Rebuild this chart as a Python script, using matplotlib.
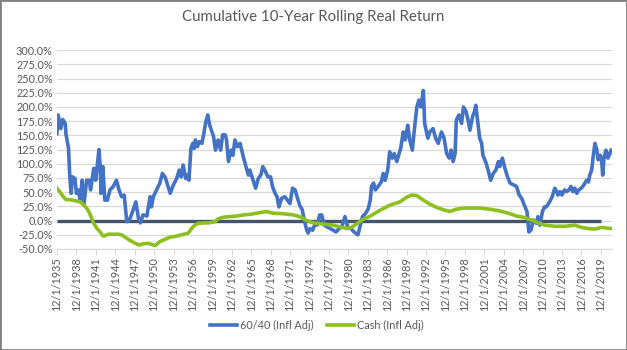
import matplotlib.pyplot as plt
from matplotlib.patches import Rectangle
from matplotlib.ticker import FuncFormatter

plt.rcParams['font.family'] = ['Lato', 'DejaVu Sans']

# 60/40 portfolio, cumulative 10y real return (%)
years_6040 = [1935.9, 1936.1, 1936.5, 1936.8, 1937.2, 1937.3, 1937.7, 1937.9, 1938.1, 1938.3,
              1938.7, 1938.9, 1939.2, 1939.5, 1939.8, 1940.1, 1940.5, 1940.9, 1941.1, 1941.6,
              1941.9, 1942.4, 1942.6, 1942.7, 1943.0, 1943.3, 1943.7, 1944.1, 1944.6, 1945.1,
              1945.5, 1945.9, 1946.3, 1946.7, 1947.1, 1947.5, 1948.1, 1948.5, 1948.8, 1949.2,
              1949.8, 1950.3, 1950.5, 1950.8, 1951.3, 1951.8, 1952.2, 1952.6, 1953.0, 1953.4,
              1953.9, 1954.4, 1954.8, 1955.1, 1955.4, 1955.8, 1956.1, 1956.3, 1956.6, 1956.9,
              1957.1, 1957.3, 1957.6, 1957.9, 1958.3, 1958.6, 1958.9, 1959.2, 1959.5, 1960.1,
              1960.4, 1960.8, 1961.2, 1961.5, 1961.9, 1962.1, 1962.4, 1962.8, 1963.1, 1963.4,
              1963.8, 1964.2, 1964.7, 1965.1, 1965.5, 1965.7, 1966.2, 1966.6, 1967.0, 1967.4,
              1967.7, 1968.0, 1968.5, 1968.9, 1969.2, 1969.6, 1969.9, 1970.2, 1970.6, 1971.1,
              1971.5, 1971.9, 1972.3, 1972.7, 1973.0, 1973.4, 1973.8, 1974.1, 1974.5, 1974.7,
              1975.0, 1975.4, 1975.8, 1976.1, 1976.5, 1976.8, 1977.2, 1977.6, 1978.1, 1978.6,
              1979.0, 1979.5, 1979.9, 1980.4, 1980.8, 1981.3, 1981.8, 1982.4, 1982.7, 1983.1,
              1983.6, 1984.0, 1984.3, 1984.5, 1984.8, 1985.1, 1985.5, 1986.0, 1986.3, 1986.6,
              1987.0, 1987.3, 1987.7, 1988.0, 1988.4, 1988.6, 1989.0, 1989.4, 1989.7, 1990.1,
              1990.4, 1990.8, 1991.1, 1991.5, 1991.8, 1992.1, 1992.5, 1992.7, 1993.2, 1993.5,
              1994.0, 1994.4, 1994.8, 1995.3, 1995.7, 1996.1, 1996.5, 1996.8, 1997.1, 1997.4,
              1997.6, 1998.0, 1998.4, 1998.7, 1999.1, 1999.4, 1999.7, 2000.1, 2000.4, 2000.6,
              2000.9, 2001.2, 2001.5, 2001.7, 2002.2, 2002.5, 2002.9, 2003.3, 2003.7, 2004.1,
              2004.3, 2004.7, 2005.1, 2005.5, 2005.9, 2006.4, 2006.9, 2007.3, 2007.7, 2008.0,
              2008.5, 2008.8, 2009.1, 2009.5, 2010.0, 2010.2, 2010.5, 2010.9, 2011.2, 2011.5,
              2012.0, 2012.4, 2012.8, 2013.1, 2013.3, 2013.6, 2013.9, 2014.3, 2014.6, 2015.0,
              2015.3, 2015.6, 2015.9, 2016.2, 2016.5, 2016.9, 2017.3, 2017.7, 2018.0, 2018.2,
              2018.5, 2018.7, 2019.0, 2019.3, 2019.5, 2019.8, 2020.0, 2020.2, 2020.4, 2020.7,
              2021.0, 2021.2, 2021.5]
ret_6040 = [153, 186, 162, 178, 171, 153, 127, 77, 48, 77,
            74, 48, 54, 36, 71, 30, 71, 71, 54, 92,
            71, 125, 95, 48, 95, 36, 36, 54, 60, 71,
            54, 42, 45, -2, 1, 13, 33, 4, -4, 10,
            8, 42, 24, 42, 54, 66, 83, 77, 63, 48,
            63, 74, 89, 77, 98, 74, 80, 71, 127, 136,
            127, 142, 130, 139, 136, 153, 174, 186, 168, 148,
            124, 142, 124, 151, 151, 142, 104, 124, 115, 142,
            130, 136, 112, 95, 80, 89, 71, 57, 74, 80,
            95, 89, 77, 77, 60, 48, 42, 24, 39, 42,
            36, 30, 57, 54, 42, 27, 19, 1, -17, -22,
            -14, -17, -5, -8, 10, 10, -8, -11, -14, -17,
            -20, -14, -11, 7, -11, -14, -20, -25, -11, 7,
            13, 21, 36, 60, 66, 54, 60, 68, 83, 71,
            89, 121, 110, 118, 104, 112, 127, 156, 142, 168,
            142, 124, 159, 200, 212, 200, 229, 171, 145, 156,
            162, 145, 136, 156, 145, 118, 110, 124, 104, 118,
            177, 186, 171, 200, 192, 177, 159, 183, 192, 203,
            174, 145, 136, 115, 101, 89, 71, 83, 89, 104,
            95, 110, 92, 77, 66, 63, 60, 45, 39, 30,
            16, -20, -17, 1, -5, 7, -8, 16, 24, 24,
            33, 42, 57, 51, 45, 51, 45, 54, 51, 54,
            60, 51, 57, 48, 54, 57, 63, 71, 68, 80,
            89, 110, 136, 124, 107, 115, 110, 80, 110, 124,
            110, 115, 124]

# cash, cumulative 10y real return (%)
years_cash = [1935.9, 1936.4, 1936.9, 1937.3, 1937.9, 1938.7, 1939.5, 1940.0, 1940.5, 1941.0,
              1941.5, 1942.1, 1942.6, 1943.0, 1943.3, 1943.8, 1944.6, 1945.4, 1945.9, 1946.4,
              1947.2, 1948.0, 1948.6, 1949.2, 1950.0, 1951.1, 1951.8, 1952.6, 1953.4, 1954.1,
              1955.2, 1956.2, 1956.7, 1957.2, 1957.7, 1958.5, 1959.3, 1960.3, 1960.8, 1961.6,
              1962.6, 1963.7, 1964.7, 1965.7, 1967.3, 1968.3, 1969.3, 1970.9, 1972.4, 1973.4,
              1974.5, 1975.5, 1977.0, 1978.6, 1979.6, 1980.7, 1981.4, 1982.4, 1983.2, 1984.3,
              1985.8, 1987.3, 1988.9, 1989.9, 1990.7, 1991.5, 1992.5, 1993.5, 1994.6, 1995.6,
              1996.6, 1997.6, 1998.7, 1999.7, 2001.2, 2002.8, 2004.3, 2005.9, 2006.9, 2007.9,
              2009.2, 2010.2, 2011.3, 2012.8, 2014.4, 2015.9, 2016.9, 2018.0, 2019.0, 2020.0,
              2021.5]
ret_cash = [57, 50, 42, 37, 37, 35, 33, 28, 22, 12,
            -3, -14, -20, -27, -27, -24, -24, -24, -25, -29,
            -35, -40, -43, -41, -40, -44, -37, -33, -29, -28,
            -25, -22, -14, -8, -5, -4, -4, -2, 3, 6,
            7, 8, 10, 11, 14, 16, 13, 12, 10, 7,
            0, -4, -6, -8, -11, -14, -12, -4, 2, 8,
            18, 27, 33, 41, 45, 44, 36, 29, 23, 19,
            16, 20, 22, 22, 22, 20, 17, 12, 8, 6,
            1, -4, -8, -10, -10, -8, -12, -14, -15, -12,
            -14]

zero_years = [1935.92, 2019.92]
zero_vals = [0, 0]

tick_years = [1935 + 3 * i for i in range(29)]
tick_labels = ['12/1/%d' % y for y in tick_years]

fig = plt.figure(figsize=(6.27, 3.5), dpi=100)
ax = fig.add_axes([0.0909, 0.2886, 0.885, 0.568])

ax.set_ylim(-50, 300)
ax.set_yticks(range(-50, 301, 25))
ax.yaxis.set_major_formatter(FuncFormatter(lambda v, p: '%.1f%%' % v))
ax.grid(axis='y', color='#d9d9d9', linewidth=0.9)
ax.set_axisbelow(True)

ax.plot(zero_years, zero_vals, color='#44546a', linewidth=2.4, solid_capstyle='butt')
l1, = ax.plot(years_6040, ret_6040, color='#4472c4', linewidth=2.6, label='60/40 (Infl Adj)')
l2, = ax.plot(years_cash, ret_cash, color='#8dbf1f', linewidth=2.6, label='Cash (Infl Adj)')

ax.set_xlim(1935.92, 2021.62)
ax.set_xticks([y + 0.92 for y in tick_years])
ax.set_xticklabels(tick_labels, rotation=90)

for s in ['top', 'right', 'left']:
    ax.spines[s].set_visible(False)
ax.spines['bottom'].set_color('#d9d9d9')
ax.tick_params(axis='y', length=0, labelsize=7.8, colors='#595959', pad=3)
ax.tick_params(axis='x', length=4, color='#d9d9d9', labelsize=7.8, labelcolor='#595959', pad=2)

fig.text(0.5, 0.95, 'Cumulative 10-Year Rolling Real Return', ha='center', va='center',
         fontsize=10.8, color='#595959')
fig.legend(handles=[l1, l2], loc='center', bbox_to_anchor=(0.505, 0.07), ncol=2,
           frameon=False, fontsize=7.8, labelcolor='#595959', handlelength=2.5,
           columnspacing=1.2, handletextpad=0.3)

fig.patches.append(Rectangle((0, 0), 1, 1, transform=fig.transFigure, fill=False,
                             edgecolor='#808080', linewidth=2.0))

fig.savefig('out.png', dpi=100)
